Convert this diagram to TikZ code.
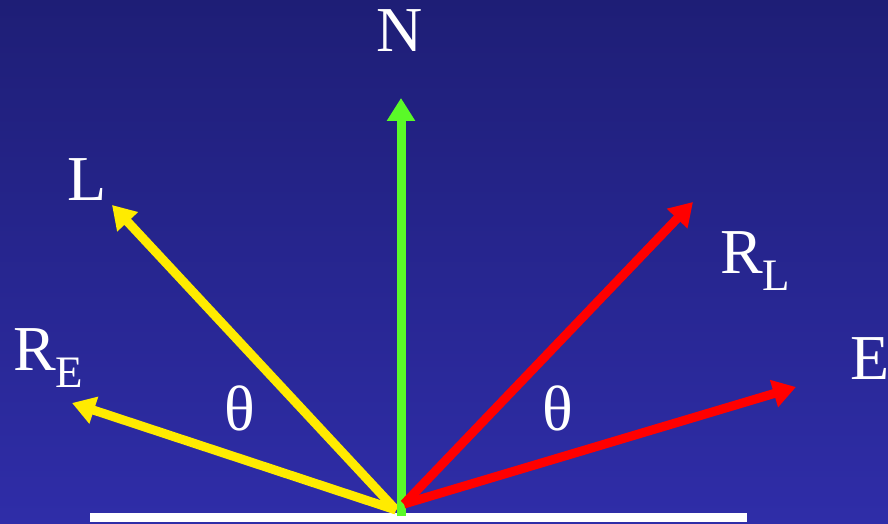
\documentclass[tikz,border=0pt]{standalone}
\usepackage{fontspec}
\setmainfont{Liberation Serif}
\usetikzlibrary{arrows.meta}
\definecolor{bgtop}{RGB}{30,30,118}
\definecolor{bgbot}{RGB}{47,45,168}
\definecolor{ray}{RGB}{255,235,0}
\definecolor{nrm}{RGB}{90,250,40}
\definecolor{refl}{RGB}{255,0,0}
\newcommand{\sublbl}[1]{\raisebox{-17pt}{\fontsize{45}{45}\selectfont #1}}
\begin{document}
\begin{tikzpicture}[x=1pt,y=1pt,
    vec/.style={line width=9pt,-{Triangle[length=23pt,width=27pt]}},
    lbl/.style={text=white,inner sep=0pt,font=\fontsize{64}{64}\selectfont}]
  % background
  \shade[top color=bgtop,bottom color=bgbot] (0,0) rectangle (888,523);
  \useasboundingbox (0,0) rectangle (888,523);
  % surface
  \draw[white,line width=9pt] (90,6) -- (747,6);
  % end points
  \coordinate (oy) at (396,13);
  \coordinate (og) at (401,7);
  \coordinate (or) at (404,19);
  \coordinate (n) at (401,425);
  \coordinate (l) at (112,318);
  \coordinate (re) at (72,120);
  \coordinate (rl) at (693,321);
  \coordinate (e) at (796,136);
  % vectors
  \draw[vec,ray] (oy) -- (l);
  \draw[vec,ray] (oy) -- (re);
  \draw[vec,nrm] (og) -- (n);
  \draw[vec,refl] (or) -- (rl);
  \draw[vec,refl] (or) -- (e);
  % labels
  \node[lbl,anchor=base] (N) at (400,471) {N};
  \node[lbl,anchor=base west] (L) at (67,323) {L};
  \node[lbl,anchor=base west] (RE) at (13,153) {R\sublbl{E}};
  \node[lbl,anchor=base] (t1) at (240,93) {θ};
  \node[lbl,anchor=base] (t2) at (558,93) {θ};
  \node[lbl,anchor=base west] (RL) at (720,250) {R\sublbl{L}};
  \node[lbl,anchor=base west] (E) at (850,144) {E};
\end{tikzpicture}
\end{document}
